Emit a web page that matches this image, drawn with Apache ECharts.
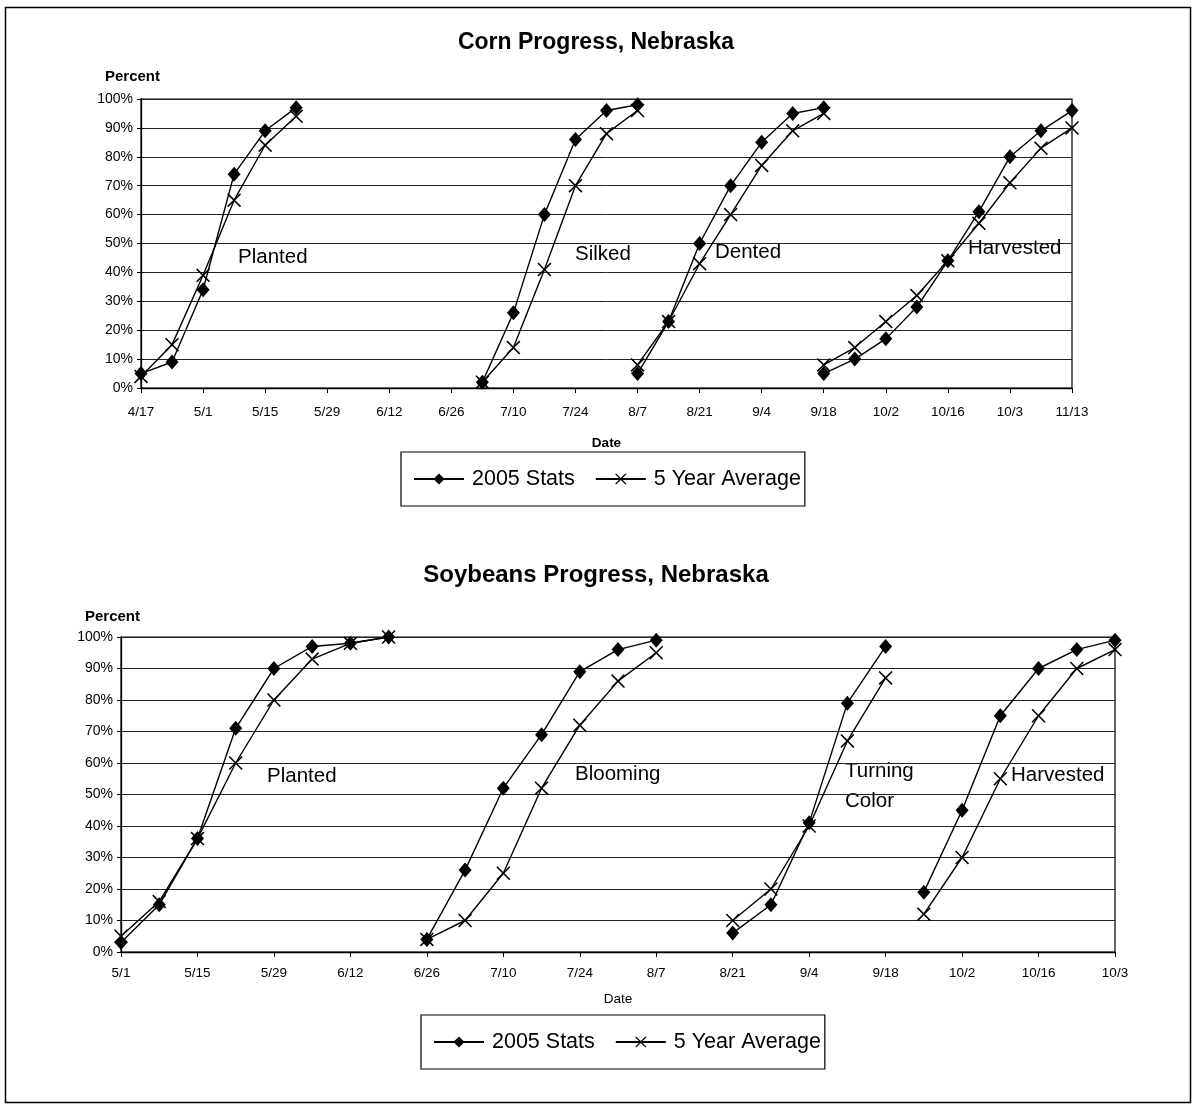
<!DOCTYPE html>
<html>
<head>
<meta charset="utf-8">
<script src="https://cdn.jsdelivr.net/npm/echarts@6/dist/echarts.min.js"></script>
<style>
html,body{margin:0;padding:0;background:#fff;}
#chart{width:1192px;height:1105px;}
</style>
</head>
<body>
<div id="chart"></div>
<script>
// ---------- DATA ----------
const cornCategories = ['4/17','4/24','5/1','5/8','5/15','5/22','5/29','6/5','6/12','6/19','6/26','7/3','7/10','7/17','7/24','7/31','8/7','8/14','8/21','8/28','9/4','9/11','9/18','9/25','10/2','10/9','10/16','10/23','10/30','11/6','11/13'];
const cornTickLabels = ['4/17','5/1','5/15','5/29','6/12','6/26','7/10','7/24','8/7','8/21','9/4','9/18','10/2','10/16','10/3','11/13'];

const cornPlanted2005 = [5, 9, 34, 74, 89, 97];          // from 4/17
const cornPlantedAvg  = [4, 15, 39, 65, 84, 94];
const cornSilked2005  = [2, 26, 60, 86, 96, 98];          // from 7/3
const cornSilkedAvg   = [2, 14, 41, 70, 88, 96];
const cornDented2005  = [5, 23, 50, 70, 85, 95, 97];      // from 8/7
const cornDentedAvg   = [8, 23, 43, 60, 77, 89, 95];
const cornHarvested2005 = [5, 10, 17, 28, 44, 61, 80, 89, 96]; // from 9/18
const cornHarvestedAvg  = [8, 14, 23, 32, 44, 57, 71, 83, 90];

const soyCategories = ['5/1','5/8','5/15','5/22','5/29','6/5','6/12','6/19','6/26','7/3','7/10','7/17','7/24','7/31','8/7','8/14','8/21','8/28','9/4','9/11','9/18','9/25','10/2','10/9','10/16','10/23','10/30'];
const soyTickLabels = ['5/1','5/15','5/29','6/12','6/26','7/10','7/24','8/7','8/21','9/4','9/18','10/2','10/16','10/3'];

const soyPlanted2005 = [3, 15, 36, 71, 90, 97, 98, 100];   // from 5/1
const soyPlantedAvg  = [5, 16, 36, 60, 80, 93, 98, 100];
const soyBlooming2005 = [4, 26, 52, 69, 89, 96, 99];       // from 6/26
const soyBloomingAvg  = [4, 10, 25, 52, 72, 86, 95];
const soyTurning2005 = [6, 15, 41, 79, 97];                // from 8/21
const soyTurningAvg  = [10, 20, 40, 67, 87];
const soyHarvested2005 = [19, 45, 75, 90, 96, 99];         // from 9/25
const soyHarvestedAvg  = [12, 30, 55, 75, 90, 96];

// ---------- BUILD ----------
function place(cats, start, vals){
  const arr = cats.map(() => null);
  const i = cats.indexOf(start);
  vals.forEach((v,k) => { arr[i+k] = v; });
  return arr;
}
const XSYM = 'path://M0,0.8 L0.8,0 L5,4.2 L9.2,0 L10,0.8 L5.8,5 L10,9.2 L9.2,10 L5,5.8 L0.8,10 L0,9.2 L4.2,5 Z';
function mk(name, idx, data){
  const is05 = name === '2005 Stats';
  return {
    name: name, type: 'line', xAxisIndex: idx, yAxisIndex: idx,
    data: data, connectNulls: false,
    symbol: is05 ? 'diamond' : XSYM,
    symbolSize: is05 ? [13,15] : 14,
    showAllSymbol: true,
    lineStyle: {color: '#000', width: 1.4},
    itemStyle: {color: '#000'},
    emphasis: {disabled: true},
    animation: false
  };
}
const series = [
  mk('2005 Stats', 0, place(cornCategories, '4/17', cornPlanted2005)),
  mk('5 Year Average', 0, place(cornCategories, '4/17', cornPlantedAvg)),
  mk('2005 Stats', 0, place(cornCategories, '7/3', cornSilked2005)),
  mk('5 Year Average', 0, place(cornCategories, '7/3', cornSilkedAvg)),
  mk('2005 Stats', 0, place(cornCategories, '8/7', cornDented2005)),
  mk('5 Year Average', 0, place(cornCategories, '8/7', cornDentedAvg)),
  mk('2005 Stats', 0, place(cornCategories, '9/18', cornHarvested2005)),
  mk('5 Year Average', 0, place(cornCategories, '9/18', cornHarvestedAvg)),
  mk('2005 Stats', 1, place(soyCategories, '5/1', soyPlanted2005)),
  mk('5 Year Average', 1, place(soyCategories, '5/1', soyPlantedAvg)),
  mk('2005 Stats', 1, place(soyCategories, '6/26', soyBlooming2005)),
  mk('5 Year Average', 1, place(soyCategories, '6/26', soyBloomingAvg)),
  mk('2005 Stats', 1, place(soyCategories, '8/21', soyTurning2005)),
  mk('5 Year Average', 1, place(soyCategories, '8/21', soyTurningAvg)),
  mk('2005 Stats', 1, place(soyCategories, '9/25', soyHarvested2005)),
  mk('5 Year Average', 1, place(soyCategories, '9/25', soyHarvestedAvg))
];

const FONT = '"Liberation Sans", Arial, sans-serif';
function xAxis(idx, cats, ticks, margin, nameGap, bold){
  return {
    type: 'category', gridIndex: idx, data: cats, boundaryGap: false,
    axisLine: {lineStyle: {color: '#000', width: 1.3}},
    axisTick: {show: true, interval: 1, length: 5, lineStyle: {color: '#000'}},
    axisLabel: {interval: 1, margin: margin, color: '#000', fontSize: 13.5, fontFamily: FONT,
      formatter: (v, i) => ticks[i/2] !== undefined ? ticks[i/2] : ''},
    splitLine: {show: false},
    name: 'Date', nameLocation: 'middle', nameGap: nameGap,
    nameTextStyle: {color: '#000', fontSize: 13.5, fontWeight: bold ? 'bold' : 'normal', fontFamily: FONT}
  };
}
function yAxis(idx){
  return {
    type: 'value', gridIndex: idx, min: 0, max: 100, interval: 10,
    axisLine: {show: true, lineStyle: {color: '#000', width: 1.3}},
    axisTick: {show: true, length: 4, lineStyle: {color: '#000'}},
    axisLabel: {margin: 8, color: '#000', fontSize: 14, fontFamily: FONT, formatter: v => v + '%'},
    splitLine: {show: true, lineStyle: {color: '#222', width: 1}}
  };
}
function legend(left, top){
  return {
    data: ['2005 Stats', '5 Year Average'], left: left, top: top,
    orient: 'horizontal', itemWidth: 50, itemHeight: 14, itemGap: 20,
    padding: [16, 4, 16, 12],
    borderColor: '#000', borderWidth: 1.2, backgroundColor: '#fff',
    textStyle: {color: '#000', fontSize: 21.5, fontFamily: FONT, padding: [0,0,0,3]},
    selectedMode: false
  };
}
function txt(x, y, s, size, bold){
  return {type: 'text', left: x, top: y, silent: true,
    style: {text: s, fill: '#000', fontSize: size, fontWeight: bold ? 'bold' : 'normal', fontFamily: FONT}};
}

const option = {
  animation: false,
  backgroundColor: '#fff',
  grid: [
    {left: 141, top: 99, width: 931, height: 289, show: true, borderColor: '#000', borderWidth: 1.2},
    {left: 121, top: 637, width: 994, height: 315, show: true, borderColor: '#000', borderWidth: 1.2}
  ],
  xAxis: [xAxis(0, cornCategories, cornTickLabels, 17, 48, true), xAxis(1, soyCategories, soyTickLabels, 14, 40, false)],
  yAxis: [yAxis(0), yAxis(1)],
  legend: [legend(401, 452), legend(421, 1015)],
  series: series,
  graphic: [
    {type: 'rect', left: 3, top: 5, silent: true, shape: {width: 1185, height: 1095},
      style: {fill: 'none', stroke: '#000', lineWidth: 1.5}},
    {type: 'text', left: 'center', top: 31, silent: true,
      style: {text: 'Corn Progress, Nebraska', fill: '#000', fontSize: 23, fontWeight: 'bold', fontFamily: FONT}},
    {type: 'text', left: 'center', top: 563, silent: true,
      style: {text: 'Soybeans Progress, Nebraska', fill: '#000', fontSize: 24, fontWeight: 'bold', fontFamily: FONT}},
    txt(105, 69, 'Percent', 15, true),
    txt(85, 609, 'Percent', 15, true),
    txt(238, 247, 'Planted', 20.5),
    txt(575, 244, 'Silked', 20.5),
    txt(715, 242, 'Dented', 20.5),
    txt(968, 238, 'Harvested', 20.5),
    txt(267, 766, 'Planted', 20.5),
    txt(575, 764, 'Blooming', 20.5),
    txt(845, 761, 'Turning', 20.5),
    txt(845, 791, 'Color', 20.5),
    txt(1011, 765, 'Harvested', 20.5)
  ]
};
const chart = echarts.init(document.getElementById('chart'), null, {renderer: 'canvas'});
chart.setOption(option);
</script>
</body>
</html>
